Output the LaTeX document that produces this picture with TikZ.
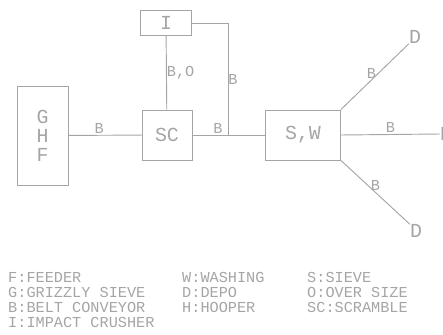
\documentclass[tikz,border=0pt]{standalone}
\usepackage{fontspec}
\setmonofont{Liberation Mono}
\definecolor{cadgray}{RGB}{165,165,165}
\begin{document}
\begin{tikzpicture}[
    x=0.03cm, y=-0.03cm,
    every node/.style={text=cadgray, font=\ttfamily\fontsize{13}{13}\selectfont},
    unit/.style={rectangle, draw=cadgray, line width=0.8pt, inner sep=0pt, align=center, font=\ttfamily\fontsize{17}{16.2}\selectfont},
    tag/.style={inner sep=1pt},
    depot/.style={inner sep=0pt, font=\ttfamily\fontsize{17}{17}\selectfont},
    legend/.style={align=left, anchor=north west, inner sep=0pt, font=\ttfamily\fontsize{13}{12.8}\selectfont},
    line/.style={draw=cadgray, line width=0.8pt}
]
    \useasboundingbox (0,0) rectangle (443,335);

    \node [unit, minimum width=1.53cm, minimum height=2.97cm] (ghf) at (42.5,135.5) {G\\H\\F};
    \node [unit, minimum width=1.5cm, minimum height=1.5cm] (sc) at (167,135) {SC};
    \node [unit, minimum width=1.53cm, minimum height=0.75cm] (i) at (166,23) {I};
    \node [unit, minimum width=2.25cm, minimum height=1.5cm] (sw) at (303,135) {S,W};

    \node [depot] (dtop) at (415,37) {D};
    \node [depot] (dmid) at (446,134) {D};
    \node [depot] (dlow) at (416,231) {D};
    \coordinate (tee) at (228,135);

    \draw [line] (ghf) -- node [tag, above, pos=0.42] {B} (sc);
    \draw [line] (sc) -- node [tag, above, pos=0.35] {B} (sw);
    \draw [line] (i) -- node [tag, anchor=west, inner sep=0pt] {B,O} (sc);
    \draw [line] (i.east) -| node [tag, pos=0.75, anchor=west, inner sep=0pt] {B} (tee);
    \draw [line] (sw.north east) -- node [tag, above, pos=0.45] {B} (dtop.south west);
    \draw [line] (sw.east) -- node [tag, above] {B} (dmid.west);
    \draw [line] (sw.south east) -- node [tag, above] {B} (dlow.north west);

    \node [legend] (key1) at (8,272) {F:FEEDER\\G:GRIZZLY SIEVE\\B:BELT CONVEYOR\\I:IMPACT CRUSHER};
    \node [legend] (key2) at (182,272) {W:WASHING\\D:DEPO\\H:HOOPER};
    \node [legend] (key3) at (307,272) {S:SIEVE\\O:OVER SIZE\\SC:SCRAMBLE};
\end{tikzpicture}
\end{document}
